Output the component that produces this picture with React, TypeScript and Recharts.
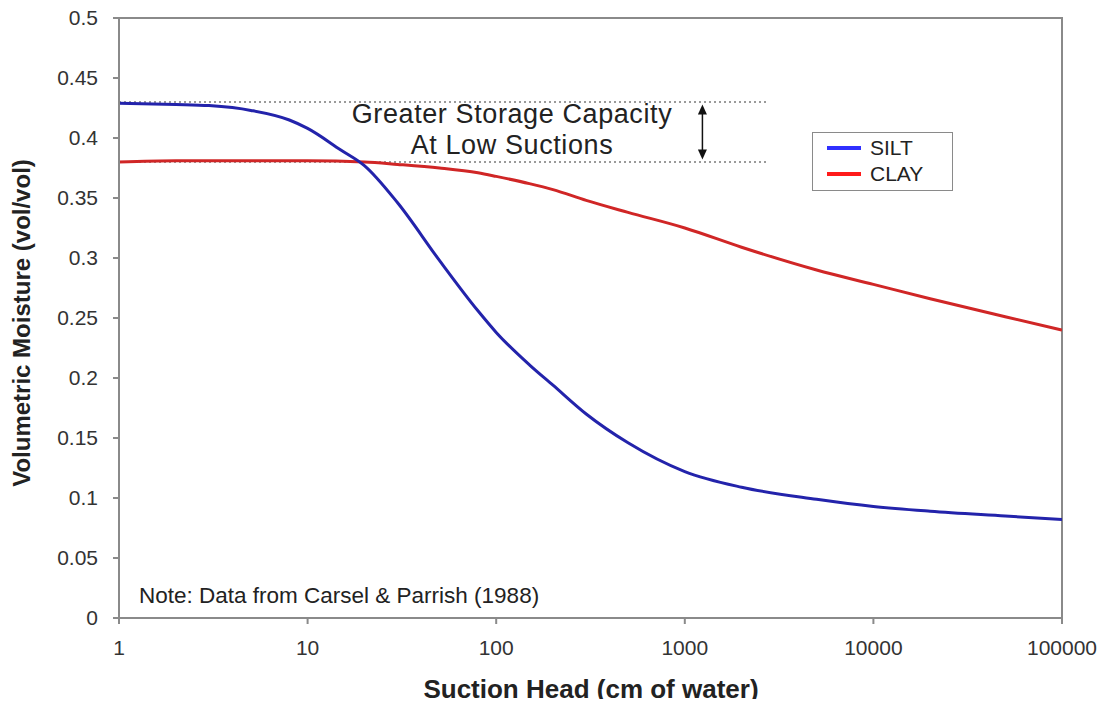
import {
  Line,
  LineChart,
  ReferenceArea,
  ReferenceLine,
  XAxis,
  YAxis,
} from 'recharts';

// Suction head (cm of water) sample points, log spaced.
const SILT_H = [1, 2, 3, 5, 8, 10, 15, 20, 30, 50, 80, 100, 150, 200, 300, 500, 1000, 2000, 5000, 10000, 20000, 50000, 100000];
const SILT_V = [0.429, 0.428, 0.427, 0.423, 0.415, 0.408, 0.39, 0.377, 0.346, 0.298, 0.256, 0.238, 0.211, 0.194, 0.17, 0.146, 0.122, 0.109, 0.099, 0.093, 0.089, 0.085, 0.082];

const CLAY_H = [1, 2, 5, 10, 20, 30, 50, 80, 100, 150, 200, 300, 500, 1000, 2000, 5000, 10000, 20000, 50000, 100000];
const CLAY_V = [0.38, 0.381, 0.381, 0.381, 0.38, 0.378, 0.375, 0.371, 0.368, 0.362, 0.357, 0.348, 0.338, 0.325, 0.309, 0.29, 0.278, 0.266, 0.251, 0.24];

const X_TICKS = [1, 10, 100, 1000, 10000, 100000];
const Y_TICKS = [0, 0.05, 0.1, 0.15, 0.2, 0.25, 0.3, 0.35, 0.4, 0.45, 0.5];

// storage band annotation (saturated contents) and where the dotted guides stop
const SILT_SAT = 0.43;
const CLAY_SAT = 0.38;
const GUIDE_END = 2700;
const ARROW_H = 1240;

const FONT = '"Liberation Sans", Arial, Helvetica, sans-serif';
const AXIS = '#8a8a8a';
const TXT = '#333';
const BLUE = '#2323ab';
const RED = '#d02626';

const silt = SILT_H.map((h, i) => ({ h, v: SILT_V[i] }));
const clay = CLAY_H.map((h, i) => ({ h, v: CLAY_V[i] }));

function DoubleArrow(props: any) {
  const { x1, y1, x2, y2 } = props;
  const top = Math.min(y1, y2);
  const bot = Math.max(y1, y2);
  return (
    <g>
      <line x1={x1} y1={top + 6} x2={x2} y2={bot - 6} stroke="#111" strokeWidth={1.5} />
      <polygon points={`${x1},${top} ${x1 - 4.5},${top + 10} ${x1 + 4.5},${top + 10}`} fill="#111" />
      <polygon points={`${x1},${bot} ${x1 - 4.5},${bot - 10} ${x1 + 4.5},${bot - 10}`} fill="#111" />
    </g>
  );
}

const annot = (top: number) => ({
  position: 'absolute' as const,
  left: 312,
  width: 400,
  top,
  height: 31,
  textAlign: 'center' as const,
  fontSize: 27,
  lineHeight: '31px',
  letterSpacing: 0.6,
  color: '#222',
  whiteSpace: 'nowrap' as const,
});

export default function App() {
  return (
    <div
      style={{
        position: 'relative',
        width: 1107,
        height: 707,
        margin: -8,
        background: '#fff',
        fontFamily: FONT,
        color: TXT,
      }}
    >
      <LineChart width={1107} height={707} margin={{ top: 18, right: 45, bottom: 0, left: 0 }}>
        <XAxis
          dataKey="h"
          type="number"
          scale="log"
          domain={[1, 100000]}
          ticks={X_TICKS}
          allowDataOverflow
          height={89}
          stroke={AXIS}
          strokeWidth={2}
          tickSize={6}
          tickMargin={16}
          tick={{ fontSize: 21, fill: TXT, fontFamily: FONT }}
        />
        <YAxis
          type="number"
          domain={[0, 0.5]}
          ticks={Y_TICKS}
          width={119}
          stroke={AXIS}
          strokeWidth={2}
          tickSize={6}
          tickMargin={15}
          tick={{ fontSize: 21, fill: TXT, fontFamily: FONT }}
        />
        <ReferenceArea
          x1={1}
          x2={100000}
          y1={0}
          y2={0.5}
          fill="none"
          stroke={AXIS}
          strokeWidth={2}
          ifOverflow="visible"
        />
        <ReferenceLine
          segment={[{ x: 1, y: SILT_SAT }, { x: GUIDE_END, y: SILT_SAT }]}
          stroke="#9a9a9a"
          strokeWidth={2}
          strokeDasharray="2 3"
        />
        <ReferenceLine
          segment={[{ x: 1, y: CLAY_SAT }, { x: GUIDE_END, y: CLAY_SAT }]}
          stroke="#9a9a9a"
          strokeWidth={2}
          strokeDasharray="2 3"
        />
        <ReferenceLine
          segment={[{ x: ARROW_H, y: SILT_SAT - 0.002 }, { x: ARROW_H, y: CLAY_SAT + 0.002 }]}
          shape={DoubleArrow}
        />
        <Line
          data={clay}
          dataKey="v"
          type="monotone"
          stroke={RED}
          strokeWidth={3}
          dot={false}
          isAnimationActive={false}
        />
        <Line
          data={silt}
          dataKey="v"
          type="monotone"
          stroke={BLUE}
          strokeWidth={3}
          dot={false}
          isAnimationActive={false}
        />
      </LineChart>

      {/* annotation */}
      <div style={annot(99)}>Greater Storage Capacity</div>
      <div style={annot(130)}>At Low Suctions</div>

      {/* legend */}
      <div
        style={{
          position: 'absolute',
          left: 812,
          top: 132,
          width: 139,
          height: 57,
          border: '1.5px solid #8a8a8a',
          fontSize: 21,
          color: '#222',
        }}
      >
        {[
          { name: 'SILT', color: '#3030ff', top: 3 },
          { name: 'CLAY', color: '#ff1a1a', top: 29 },
        ].map((d) => (
          <div key={d.name} style={{ position: 'absolute', left: 14, top: d.top, height: 24, display: 'flex', alignItems: 'center' }}>
            <span style={{ display: 'inline-block', width: 34, height: 4, background: d.color, marginRight: 9 }} />
            {d.name}
          </div>
        ))}
      </div>

      {/* note */}
      <div style={{ position: 'absolute', left: 139, top: 583, fontSize: 22.5, color: '#222' }}>
        Note: Data from Carsel &amp; Parrish (1988)
      </div>

      {/* axis titles */}
      <div
        style={{
          position: 'absolute',
          left: 591,
          top: 689,
          transform: 'translate(-50%, -50%)',
          fontSize: 26,
          fontWeight: 700,
          whiteSpace: 'nowrap',
          color: '#222',
        }}
      >
        Suction Head (cm of water)
      </div>
      <div
        style={{
          position: 'absolute',
          left: 22,
          top: 323,
          transform: 'translate(-50%, -50%) rotate(-90deg)',
          fontSize: 24,
          fontWeight: 700,
          whiteSpace: 'nowrap',
          color: '#222',
        }}
      >
        Volumetric Moisture (vol/vol)
      </div>
    </div>
  );
}
